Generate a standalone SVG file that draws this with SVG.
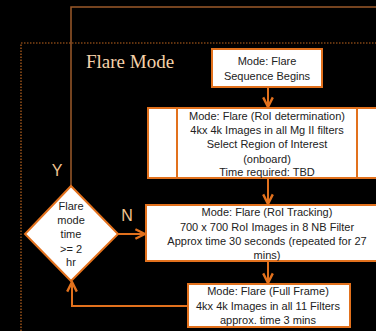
<svg xmlns="http://www.w3.org/2000/svg" width="376" height="331" viewBox="0 0 376 331">
<style>
.box{fill:#fff;stroke:#E2711D;stroke-width:2}
.t{font-family:"Liberation Sans",Arial,sans-serif;font-size:11px;fill:#222;text-anchor:middle}
.conn{fill:none;stroke:#E2711D;stroke-width:2}
.lbl{font-family:"Liberation Sans",Arial,sans-serif;font-size:16px;fill:#F2C48F;text-anchor:middle}
</style>
<defs>
<marker id="ah" viewBox="0 0 10 10" refX="9" refY="5" markerWidth="6" markerHeight="6" orient="auto" markerUnits="strokeWidth">
<path d="M1,1 L9,5 L1,9" fill="none" stroke="#E2711D" stroke-width="2"/>
</marker>
</defs>
<rect width="376" height="331" fill="#000"/>
<rect x="21" y="43" width="400" height="320" fill="none" stroke="#C0661F" stroke-width="1.2" stroke-dasharray="1.5,1.5"/>
<text x="86" y="68" font-family="'Liberation Serif',serif" font-size="19" fill="#F5D2AA">Flare Mode</text>
<g id="connectors">
<polyline points="71,186 71,7 380,7" fill="none" stroke="#9C5A2A" stroke-width="1.5"/>
<line class="conn" x1="268" y1="87" x2="268" y2="107" marker-end="url(#ah)"/>
<line class="conn" x1="268" y1="178" x2="268" y2="204" marker-end="url(#ah)"/>
<line class="conn" x1="268" y1="261" x2="268" y2="283" marker-end="url(#ah)"/>
<line class="conn" x1="118" y1="234" x2="145" y2="234" marker-end="url(#ah)"/>
<polyline class="conn" points="188,306 72,306 72,282" marker-end="url(#ah)"/>
<text class="lbl" x="57" y="176">Y</text>
<text class="lbl" x="127" y="221">N</text>
</g>
<g id="start">
<rect class="box" x="212" y="49" width="110" height="38"/>
<text class="t" x="267" y="65">Mode: Flare</text>
<text class="t" x="267" y="80">Sequence Begins</text>
</g>
<g id="roi-determination">
<rect class="box" x="148" y="108" width="240" height="70"/>
<line x1="177" y1="108" x2="177" y2="178" stroke="#E2711D" stroke-width="2"/>
<line x1="357" y1="108" x2="357" y2="178" stroke="#E2711D" stroke-width="2"/>
<text class="t" x="267" y="120">Mode: Flare (RoI determination)</text>
<text class="t" x="267" y="134">4kx 4k Images in all Mg II filters</text>
<text class="t" x="267" y="148">Select Region of Interest</text>
<text class="t" x="267" y="163">(onboard)</text>
<text class="t" x="267" y="176">Time required: TBD</text>
</g>
<g id="roi-tracking">
<rect class="box" x="146" y="205" width="240" height="56"/>
<text class="t" x="267" y="216">Mode: Flare (RoI Tracking)</text>
<text class="t" x="267" y="231">700 x 700 RoI Images in 8 NB Filter</text>
<text class="t" x="267" y="245">Approx time 30 seconds (repeated for 27</text>
<text class="t" x="267" y="259">mins)</text>
</g>
<g id="full-frame">
<rect class="box" x="188" y="284" width="162" height="43"/>
<text class="t" x="268" y="295">Mode: Flare (Full Frame)</text>
<text class="t" x="268" y="310">4kx 4k Images in all 11 Filters</text>
<text class="t" x="268" y="324">approx. time 3 mins</text>
</g>
<g id="decision">
<polygon class="box" points="71,186 118,234 71,281 25,234"/>
<text class="t" x="71" y="210">Flare</text>
<text class="t" x="71" y="224">mode</text>
<text class="t" x="71" y="238">time</text>
<text class="t" x="71" y="253">&gt;= 2</text>
<text class="t" x="71" y="266">hr</text>
</g>
</svg>
